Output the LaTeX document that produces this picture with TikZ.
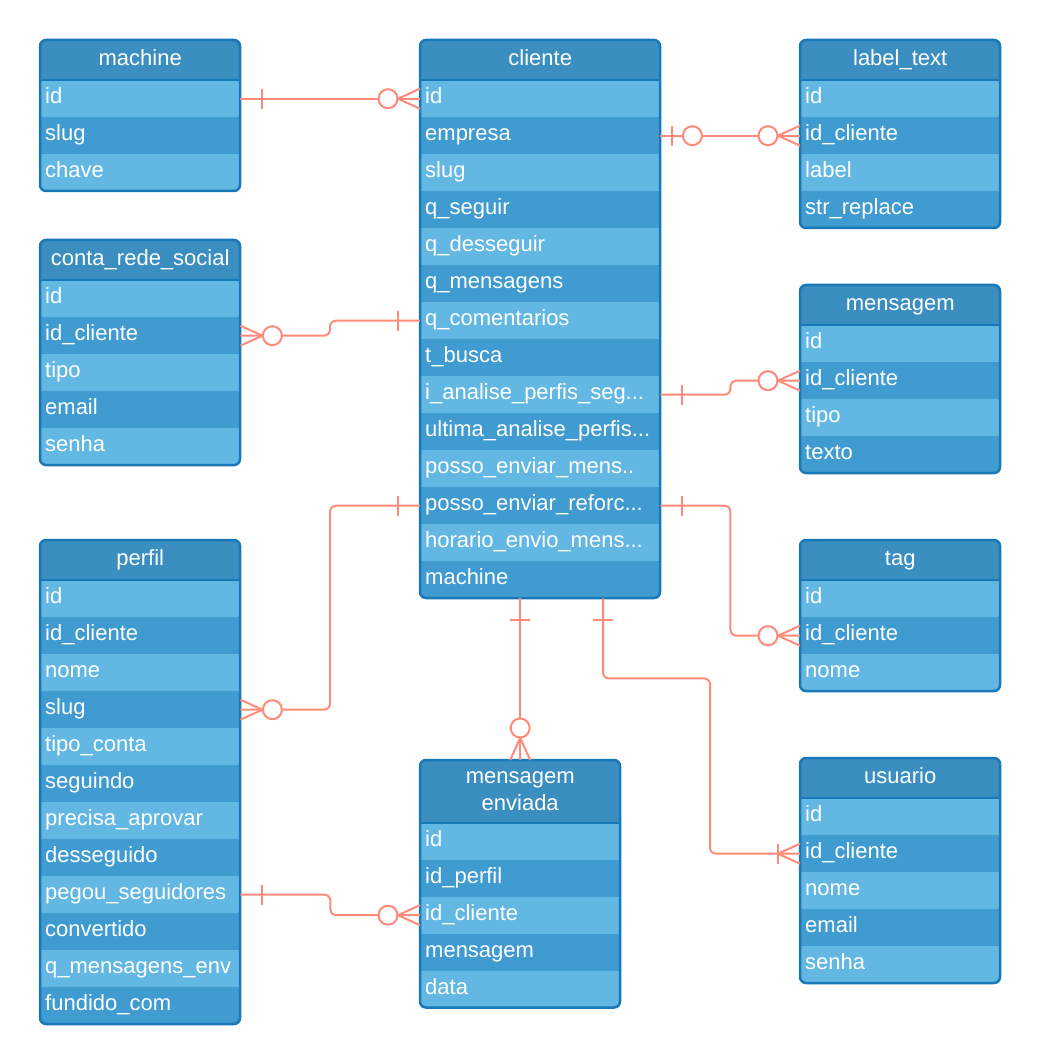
\documentclass[tikz,border=0pt]{standalone}
\usepackage{fontspec}
\setmainfont{Liberation Sans}
\usetikzlibrary{calc}
\definecolor{hdrc}{HTML}{3A8EC0}
\definecolor{rowl}{HTML}{63B8E3}
\definecolor{rowd}{HTML}{409BD0}
\definecolor{bordc}{HTML}{1878B8}
\definecolor{linec}{HTML}{FF8A7A}
\newcommand\mydots{...}
\newcommand\mytwodots{..}
\tikzset{
  hdr/.style={fill=hdrc, text=white, inner sep=0pt, anchor=north west, align=center, font=\fontsize{22}{27}\selectfont},
  hone/.style={text height=16pt, text depth=6pt},
  hnone/.style={},
  erow/.style={text=white, inner xsep=5pt, inner ysep=0pt, anchor=north west, align=left, minimum height=37pt, text height=16pt, text depth=6pt, font=\fontsize{22}{27}\selectfont},
  tbord/.style={draw=bordc, line width=2.5pt, rounded corners=6pt},
  erl/.style={draw=linec, line width=2pt, rounded corners=6pt},
  erm/.style={draw=linec, line width=2pt},
  erone/.pic={\draw[erm] (22,-10) -- (22,10);},
  ermany/.pic={\draw[erm] (0,-10) -- (22,0) -- (0,10);
               \draw[erm, fill=white] (32,0) circle[radius=9.5pt];},
  erzeroone/.pic={\draw[erm] (12,-10) -- (12,10);
                  \draw[erm, fill=white] (32,0) circle[radius=9.5pt];},
  eronemany/.pic={\draw[erm] (0,-10) -- (22,0) -- (0,10);
                  \draw[erm] (22,-10) -- (22,10);},
}
\newcommand\ertable[9]{%
  \pgfmathsetmacro\tbot{#3+#5+37*#6}%
  \pgfmathsetmacro\tw{#4-10}%
  \begin{scope}
    \clip[rounded corners=6pt] (#2,#3) rectangle (#2+#4,\tbot);
    \node[hdr,#9, text width=#4pt, minimum height=#5pt] (#1) at (#2,#3) {#7};
    \foreach \r [count=\i from 0] in {#8} {
      \pgfmathsetmacro\yy{#3+#5+37*\i}
      \ifodd\i\relax\def\rc{rowd}\else\def\rc{rowl}\fi
      \node[erow, fill=\rc, text width=\tw pt] (#1-\i) at (#2,\yy) {\mbox{\r}};
    }
  \end{scope}
  \draw[bordc, line width=2pt] (#2,#3+#5) -- (#2+#4,#3+#5);
  \draw[tbord] (#2,#3) rectangle (#2+#4,\tbot);
}
\begin{document}
\begin{tikzpicture}[x=1pt, y=-1pt]
\fill[white] (0,0) rectangle (1040,1064);
\useasboundingbox (0,0) rectangle (1040,1064);

\ertable{m}{40}{40}{200}{40}{3}{machine}{id,slug,chave}{hone}
\ertable{cl}{420}{40}{240}{40}{14}{cliente}{id,empresa,slug,q\_seguir,q\_desseguir,q\_mensagens,q\_comentarios,t\_busca,i\_analise\_perfis\_seg\mydots,ultima\_analise\_perfis\mydots,posso\_enviar\_mens\mytwodots,posso\_enviar\_reforc\mydots,horario\_envio\_mens\mydots,machine}{hone}
\ertable{lt}{800}{40}{200}{40}{4}{label\_text}{id,id\_cliente,label,str\_replace}{hone}
\ertable{cr}{40}{240}{200}{40}{5}{conta\_rede\_social}{id,id\_cliente,tipo,email,senha}{hone}
\ertable{ms}{800}{285}{200}{40}{4}{mensagem}{id,id\_cliente,tipo,texto}{hone}
\ertable{pf}{40}{540}{200}{40}{12}{perfil}{id,id\_cliente,nome,slug,tipo\_conta,seguindo,precisa\_aprovar,desseguido,pegou\_seguidores,convertido,q\_mensagens\_env,fundido\_com}{hone}
\ertable{tg}{800}{540}{200}{40}{3}{tag}{id,id\_cliente,nome}{hone}
\ertable{me}{420}{760}{200}{62.5}{5}{mensagem\\enviada}{id,id\_perfil,id\_cliente,mensagem,data}{hnone}
\ertable{us}{800}{758}{200}{40}{5}{usuario}{id,id\_cliente,nome,email,senha}{hone}

% connectors
\draw[erl] (m-0.east) -- (cl-0.west);
\path (m-0.east) pic {erone};
\path (cl-0.west) pic[rotate=180] {ermany};

\draw[erl] (cl-1.east) -- (lt-1.west);
\path (cl-1.east) pic {erzeroone};
\path (lt-1.west) pic[rotate=180] {ermany};

\draw[erl] (cl-6.west) -- ++(-90,0) |- (cr-1.east);
\path (cl-6.west) pic[rotate=180] {erone};
\path (cr-1.east) pic {ermany};

\draw[erl] (cl-8.east) -- ++(70,0) |- (ms-1.west);
\path (cl-8.east) pic {erone};
\path (ms-1.west) pic[rotate=180] {ermany};

\draw[erl] (cl-11.west) -- ++(-90,0) |- (pf-3.east);
\path (cl-11.west) pic[rotate=180] {erone};
\path (pf-3.east) pic {ermany};

\draw[erl] (cl-11.east) -- ++(70,0) |- (tg-1.west);
\path (cl-11.east) pic {erone};
\path (tg-1.west) pic[rotate=180] {ermany};

\coordinate (c7) at (me.north |- cl-13.south);
\draw[erl] (c7) -- (me.north);
\path (c7) pic[rotate=-90] {erone};
\path (me.north) pic[rotate=90] {ermany};

\coordinate (c8) at ($(cl-13.south west)+(183,0)$);
\draw[erl] (c8) |- ++(107,80) |- (us-1.west);
\path (c8) pic[rotate=-90] {erone};
\path (us-1.west) pic[rotate=180] {eronemany};

\draw[erl] (pf-8.east) -- ++(90,0) |- (me-2.west);
\path (pf-8.east) pic {erone};
\path (me-2.west) pic[rotate=180] {ermany};
\end{tikzpicture}
\end{document}
